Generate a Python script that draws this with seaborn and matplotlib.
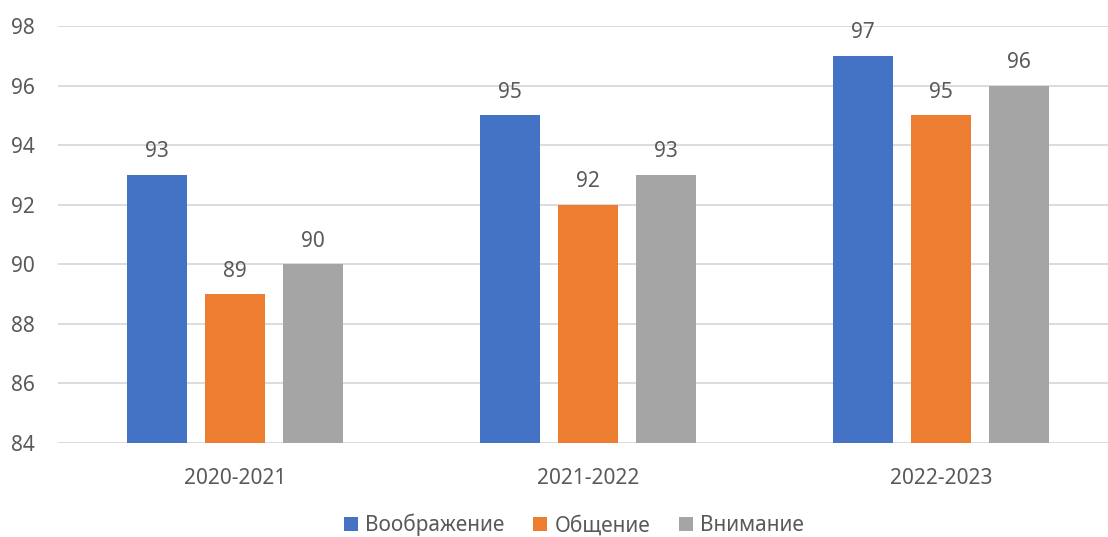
import pandas as pd
import matplotlib.pyplot as plt
import seaborn as sns

years = ['2020-2021', '2021-2022', '2022-2023']
series = ['Воображение', 'Общение', 'Внимание']
imagination = [93, 95, 97]
communication = [89, 92, 95]
attention = [90, 93, 96]
colors = ['#4472c4', '#ed7d31', '#a5a5a5']

df = pd.DataFrame({
    'year': years * 3,
    'series': [series[0]] * 3 + [series[1]] * 3 + [series[2]] * 3,
    'value': imagination + communication + attention,
})

sns.set_style('white')
plt.rcParams['font.family'] = ['Noto Sans', 'DejaVu Sans']
text_color = '#595959'

fig = plt.figure(figsize=(11.08, 5.37), dpi=100)
ax = fig.add_axes([58 / 1108, 94 / 537, 1050 / 1108, 417 / 537])

sns.barplot(data=df, x='year', y='value', hue='series', palette=colors,
            width=0.663, gap=0.23, saturation=1, linewidth=0, ax=ax, legend=True)

ax.set_ylim(84, 98)
ax.set_xlim(-0.501, 2.473)
ax.set_yticks(range(84, 99, 2))
ax.yaxis.grid(True, color='#d9d9d9', linewidth=1.3)
ax.set_axisbelow(True)
for s in ax.spines.values():
    s.set_visible(False)
ax.tick_params(axis='both', length=0, labelsize=15, colors=text_color)
ax.tick_params(axis='y', pad=17)
ax.tick_params(axis='x', pad=18)
ax.set_xlabel('')
ax.set_ylabel('')

for cont in ax.containers:
    ax.bar_label(cont, padding=9, fontsize=15, color=text_color)

ax.legend(loc='center', bbox_to_anchor=(574 / 1108, 12 / 537),
          bbox_transform=fig.transFigure, ncol=3, frameon=False,
          fontsize=15, labelcolor=text_color, handlelength=0.65,
          handleheight=0.65, handletextpad=0.35, columnspacing=1.4)

fig.savefig('out.png', dpi=100)
